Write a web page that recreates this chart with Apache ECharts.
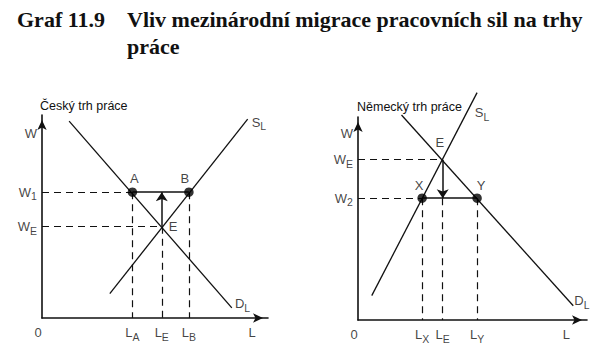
<!DOCTYPE html>
<html><head><meta charset="utf-8">
<script src="https://cdn.jsdelivr.net/npm/echarts@6/dist/echarts.min.js"></script>
<style>html,body{margin:0;padding:0;background:#fff}#c{width:608px;height:358px}</style>
</head><body><div id="c"></div>
<script>
// ---- Czech labour market (left panel) ----
const czDemand = [[1.2, 9.7], [8.4, 0.5]];
const czSupply = [[3.0, 1.2], [9.1, 9.8]];
const czWages = [6.2, 4.5];          // W1, WE
const czWageSubs = ['1', 'E'];
const czLabour = [4.0, 5.3, 6.5];    // LA, LE, LB
const czLabourSubs = ['A', 'E', 'B'];

// ---- German labour market (right panel) ----
const deDemand = [[1.9, 10.1], [9.4, 0.7]];
const deSupply = [[0.6, 1.2], [5.2, 11.2]];
const deWages = [7.9, 6.0];          // WE, W2
const deWageSubs = ['E', '2'];
const deLabour = [2.8, 3.7, 5.2];    // LX, LE, LY
const deLabourSubs = ['X', 'E', 'Y'];

const FONT = '"Liberation Sans", Arial, sans-serif';
const SERIF = '"Liberation Serif", "Times New Roman", serif';
const INK = '#111';

const rich = {
  m: {fontFamily: FONT, fontSize: 13, color: INK},
  s: {fontFamily: FONT, fontSize: 10.5, color: INK, padding: [8, 0, 0, 0]}
};
function sub(main, s) { return s ? '{m|' + main + '}{s|' + s + '}' : '{m|' + main + '}'; }

function lbl(x, y, text, position, distance, offset) {
  return {value: [x, y], label: {show: true, formatter: text, position: position, distance: distance, offset: offset || [0, 0]}};
}

function panel(idx, demand, supply, wages, wageSubs, labour, labourSubs, hiWageIsMarket) {
  const ax = {xAxisIndex: idx, yAxisIndex: idx};
  let dashed = [], solid = [], arrow = [], dots = [], labels = [];
  let eq, pL, pR, lvl;
  if (hiWageIsMarket) {
    eq = [labour[1], wages[1]]; lvl = wages[0];
  } else {
    eq = [labour[1], wages[0]]; lvl = wages[1];
  }
  pL = [labour[0], lvl]; pR = [labour[2], lvl];
  dashed.push({coords: [[0, wages[0]], hiWageIsMarket ? pL : eq]});
  dashed.push({coords: [[0, wages[1]], hiWageIsMarket ? eq : pL]});
  dashed.push({coords: [pL, [pL[0], 0]]});
  dashed.push({coords: [[eq[0], hiWageIsMarket ? eq[1] : lvl], [eq[0], 0]]});
  dashed.push({coords: [pR, [pR[0], 0]]});
  solid.push({coords: [pL, pR]});
  arrow.push({coords: [eq, [eq[0], lvl]]});
  dots.push(pL, pR);
  labels.push(lbl(0, wages[0], sub('W', wageSubs[0]), 'left', 5));
  labels.push(lbl(0, wages[1], sub('W', wageSubs[1]), 'left', 5));
  for (let i = 0; i < 3; i++) labels.push(lbl(labour[i], 0, sub('L', labourSubs[i]), 'bottom', 5));
  labels.push(lbl(0, 0, sub('0'), 'bottom', 8, [-4, 0]));
  labels.push(lbl(hiWageIsMarket ? 9.3 : 9.1, 0, sub('L'), 'bottom', 8));
  labels.push(lbl(0, hiWageIsMarket ? 9.1 : 9.2, sub('W'), 'left', 5));
  if (hiWageIsMarket) {
    labels.push(lbl(pL[0], pL[1], sub('A'), 'top', 7, [2, 0]));
    labels.push(lbl(pR[0], pR[1], sub('B'), 'top', 7, [-4, 0]));
    labels.push(lbl(eq[0], eq[1], sub('E'), 'right', 7));
    labels.push(lbl(supply[1][0], supply[1][1], sub('S', 'L'), 'right', 4, [0, 3]));
    labels.push(lbl(demand[1][0], demand[1][1], sub('D', 'L'), 'right', 3, [0, -4]));
  } else {
    labels.push(lbl(pL[0], pL[1], sub('X'), 'top', 6, [-3, 0]));
    labels.push(lbl(pR[0], pR[1], sub('Y'), 'top', 6, [4, 0]));
    labels.push(lbl(eq[0], eq[1], sub('E'), 'top', 11, [-3, 0]));
    labels.push(lbl(4.75, 10.2, sub('S', 'L'), 'right', 8));
    labels.push(lbl(demand[1][0], demand[1][1], sub('D', 'L'), 'right', 1, [0, -5]));
  }
  return [
    Object.assign({type: 'line', data: demand, showSymbol: false, clip: false, lineStyle: {color: INK, width: 1.3}}, ax),
    Object.assign({type: 'line', data: supply, showSymbol: false, clip: false, lineStyle: {color: INK, width: 1.3}}, ax),
    Object.assign({type: 'lines', coordinateSystem: 'cartesian2d', data: dashed, lineStyle: {color: INK, width: 1.2, type: [7, 5], opacity: 1}}, ax),
    Object.assign({type: 'lines', coordinateSystem: 'cartesian2d', data: solid, lineStyle: {color: INK, width: 1.5, opacity: 1}}, ax),
    Object.assign({type: 'lines', coordinateSystem: 'cartesian2d', data: arrow, symbol: ['none', 'arrow'], symbolSize: [6, 9], lineStyle: {color: INK, width: 1.5, opacity: 1}}, ax),
    Object.assign({type: 'scatter', data: dots, symbolSize: 9.5, itemStyle: {color: '#000'}, z: 5}, ax),
    Object.assign({type: 'scatter', data: labels, clip: false, symbolSize: 0.1, itemStyle: {color: 'transparent'}, label: {show: true, rich: rich, color: INK}, z: 6}, ax)
  ];
}

const axisCommon = {
  type: 'value', min: 0, max: 10,
  axisLine: {show: true, symbol: ['none', 'arrow'], symbolSize: [7, 10], symbolOffset: [0, -5], lineStyle: {color: INK, width: 1.6}},
  axisTick: {show: false}, axisLabel: {show: false}, splitLine: {show: false}
};

const titleStyle = {fontFamily: SERIF, fontWeight: 'bold', fontSize: 22, color: INK, lineHeight: 27};
const panelTitleStyle = {fontFamily: FONT, fontWeight: 'normal', fontSize: 12.5, color: INK};

const chart = echarts.init(document.getElementById('c'), null, {renderer: 'svg'});
chart.setOption({
  animation: false,
  backgroundColor: '#fff',
  title: [
    {text: 'Graf 11.9', left: 17, top: 6, padding: 0, textStyle: titleStyle},
    {text: 'Vliv mezinárodní migrace pracovních sil na trhy\npráce', left: 127, top: 6, padding: 0, textStyle: titleStyle},
    {text: 'Český trh práce', left: 40, top: 99, padding: 0, textStyle: panelTitleStyle},
    {text: 'Německý trh práce', left: 357, top: 100, padding: 0, textStyle: panelTitleStyle}
  ],
  grid: [
    {left: 42, top: 115, width: 226, height: 203},
    {left: 358, top: 117, width: 229, height: 203}
  ],
  xAxis: [Object.assign({gridIndex: 0}, axisCommon), Object.assign({gridIndex: 1}, axisCommon)],
  yAxis: [Object.assign({gridIndex: 0}, axisCommon), Object.assign({gridIndex: 1}, axisCommon)],
  series: [].concat(
    panel(0, czDemand, czSupply, czWages, czWageSubs, czLabour, czLabourSubs, true),
    panel(1, deDemand, deSupply, deWages, deWageSubs, deLabour, deLabourSubs, false)
  )
});
</script></body></html>
